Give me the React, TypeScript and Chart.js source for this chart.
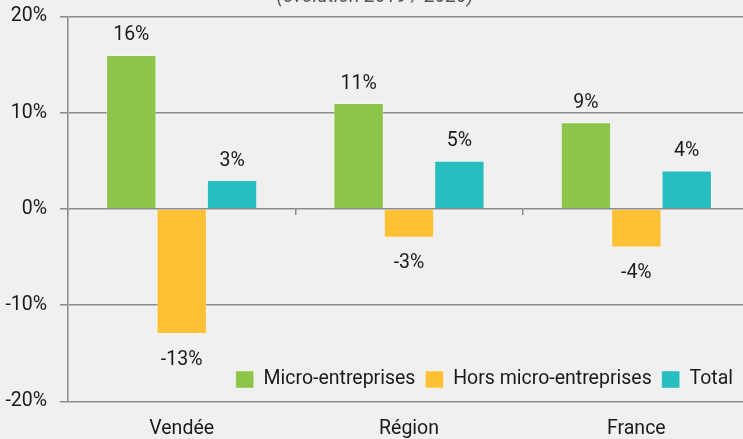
import React, { useEffect, useRef } from 'react';
import { Chart, registerables } from 'chart.js';

Chart.register(...registerables);

const categories = ['Vendée', 'Région', 'France'];
const seriesNames = ['Micro-entreprises', 'Hors micro-entreprises', 'Total'];
const microValues = [16, 11, 9];
const horsMicroValues = [-13, -3, -4];
const totalValues = [3, 5, 4];
const yTickValues = [-20, -10, 0, 10, 20];
const titleText = '(évolution 2019 / 2020)';

const FAMILY = 'Roboto, "Noto Sans", sans-serif';
const GRID = '#8c8c8c';
const TEXT = '#1a1a1a';
const BG = '#f0f0f0';
const COLORS = ['#8DC54B', '#FFC134', '#27BEBF'];
const FONT_SIZE = 19.5;

const W = 750;
const H = 439;
const LEGEND_PAD = 10;
const LEGEND_TOP = 359.75;
const LEGEND_RIGHT = 743;

const dataLabels = {
  id: 'dataLabels',
  afterDatasetsDraw(chart: any) {
    const ctx = chart.ctx;
    ctx.save();
    ctx.font = `${FONT_SIZE}px ${FAMILY}`;
    ctx.fillStyle = TEXT;
    ctx.textAlign = 'center';
    ctx.textBaseline = 'alphabetic';
    chart.data.datasets.forEach((ds: any, di: number) => {
      const meta = chart.getDatasetMeta(di);
      meta.data.forEach((bar: any, i: number) => {
        const v = ds.data[i];
        const y = v >= 0 ? bar.y - 14.5 : bar.y + 30.5;
        ctx.fillText(`${v}%`, bar.x, y);
      });
    });
    ctx.restore();
  },
};

const legendMover = {
  id: 'legendMover',
  afterLayout(chart: any) {
    const lg = chart.legend;
    if (!lg) return;
    lg.top = LEGEND_TOP;
    lg.height = 60;
    lg.bottom = LEGEND_TOP + 60;
    lg.right = LEGEND_RIGHT;
    lg.width = lg.right - lg.left;
  },
};

const bgPlugin = {
  id: 'bg',
  beforeDraw(chart: any) {
    const ctx = chart.ctx;
    ctx.save();
    ctx.fillStyle = BG;
    ctx.fillRect(0, 0, chart.width, chart.height);
    ctx.restore();
  },
};

export default function App() {
  const ref = useRef<HTMLCanvasElement | null>(null);

  useEffect(() => {
    document.body.style.margin = '0';
    document.body.style.overflow = 'hidden';
    document.body.style.background = BG;
    const canvas = ref.current;
    if (!canvas) return;
    const font = { family: FAMILY, size: FONT_SIZE, weight: 'normal' as any };
    const chart = new Chart(canvas, {
      type: 'bar',
      data: {
        labels: categories,
        datasets: [
          { label: seriesNames[0], data: microValues, backgroundColor: COLORS[0] },
          { label: seriesNames[1], data: horsMicroValues, backgroundColor: COLORS[1] },
          { label: seriesNames[2], data: totalValues, backgroundColor: COLORS[2] },
        ].map((d) => ({
          ...d,
          borderColor: 'rgba(255,255,255,0.35)',
          borderWidth: 1,
          categoryPercentage: 0.665,
          barPercentage: 1,
          xAxisID: 'x',
          yAxisID: 'y',
        })),
      },
      options: {
        responsive: false,
        animation: false,
        layout: { padding: 0 },
        plugins: {
          title: {
            display: true,
            text: titleText,
            color: '#555555',
            font: { family: FAMILY, size: 19.5, style: 'italic', weight: 'normal' as any, lineHeight: 1.2 },
            padding: { top: -14.4, bottom: 7.5 },
          },
          legend: {
            display: true,
            position: 'bottom',
            align: 'end',
            maxHeight: 0.001,
            labels: {
              boxWidth: 18,
              boxHeight: 17,
              padding: LEGEND_PAD,
              color: TEXT,
              font,
            },
          },
          tooltip: { enabled: false },
        },
        scales: {
          x: {
            position: 'bottom',
            grid: { display: false, drawTicks: false },
            border: { display: false },
            ticks: { color: TEXT, font: { ...font, lineHeight: 1.1 }, padding: 16.8 },
            afterFit: (scale: any) => {
              scale.height = 37.5;
            },
          },
          x2: {
            type: 'category',
            position: { y: 0 } as any,
            offset: true,
            grid: { offset: true, drawOnChartArea: false, tickLength: 6, color: GRID, lineWidth: 1.5 },
            ticks: { display: false },
            border: { display: false },
          },
          y: {
            min: yTickValues[0],
            max: yTickValues[yTickValues.length - 1],
            afterBuildTicks: (scale: any) => {
              scale.ticks = yTickValues.map((v) => ({ value: v }));
            },
            afterFit: (scale: any) => {
              scale.width = 68;
              scale.paddingTop = 0;
              scale.paddingBottom = 0;
            },
            ticks: {
              color: TEXT,
              font,
              padding: 13,
              callback: (v: any) => `${v}%`,
            },
            grid: { color: GRID, lineWidth: 1.5, tickLength: 8 },
            border: { color: GRID, width: 1.5 },
          },
        },
      },
      plugins: [bgPlugin, dataLabels, legendMover],
    });
    return () => chart.destroy();
  }, []);

  return (
    <div style={{ width: W, height: H, background: BG }}>
      <canvas ref={ref} width={W} height={H} style={{ display: 'block' }} />
    </div>
  );
}
